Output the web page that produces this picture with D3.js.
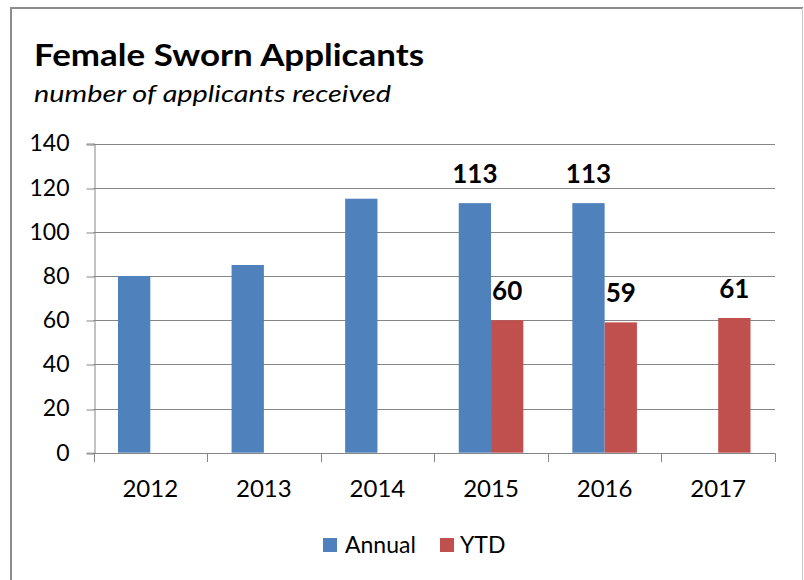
<!DOCTYPE html>
<html>
<head>
<meta charset="utf-8">
<script src="https://cdn.jsdelivr.net/npm/d3@7"></script>
<style>
  html, body { margin: 0; padding: 0; background: #fff; }
  svg { display: block; }
  text { font-family: Lato, "Open Sans", sans-serif; fill: #000; }
</style>
</head>
<body>
<svg id="chart" width="804" height="580"></svg>
<script>
const categories = ["2012", "2013", "2014", "2015", "2016", "2017"];
const seriesNames = ["Annual", "YTD"];
const annualValues = [80, 85, 115, 113, 113, null];
const ytdValues = [null, null, null, 60, 59, 61];
const annualLabels = [null, null, null, "113", "113", null];
const ytdLabels = [null, null, null, "60", "59", "61"];
const yTicks = [0, 20, 40, 60, 80, 100, 120, 140];
const colors = ["#4F81BD", "#C0504D"];
const titleText = "Female Sworn Applicants";
const subtitleText = "number of applicants received";

const svg = d3.select("#chart");

// chart frame
svg.append("line").attr("x1", 11).attr("x2", 11).attr("y1", 7).attr("y2", 580)
  .attr("stroke", "#8c8c8c").attr("stroke-width", 2);
svg.append("line").attr("x1", 10).attr("x2", 803).attr("y1", 8).attr("y2", 8)
  .attr("stroke", "#8c8c8c").attr("stroke-width", 2);
svg.append("line").attr("x1", 802.5).attr("x2", 802.5).attr("y1", 8).attr("y2", 580)
  .attr("stroke", "#c8c8c8").attr("stroke-width", 1);

// titles
svg.append("text").attr("x", 34).attr("y", 66)
  .attr("font-size", 30).attr("font-weight", "bold")
  .attr("textLength", 390).attr("lengthAdjust", "spacingAndGlyphs")
  .text(titleText);
svg.append("text").attr("x", 34).attr("y", 102)
  .attr("font-size", 23).attr("font-style", "italic")
  .attr("textLength", 357).attr("lengthAdjust", "spacingAndGlyphs")
  .text(subtitleText);

const plot = { left: 93.5, right: 775, top: 143.5, bottom: 452.7 };

const x = d3.scaleBand().domain(categories).range([plot.left, plot.right])
  .paddingInner(0).paddingOuter(0);
const xs = d3.scaleBand().domain(seriesNames).range([0, x.bandwidth()])
  .paddingInner(0).paddingOuter(0.758);
const y = d3.scaleLinear().domain([0, 140]).range([plot.bottom, plot.top]);

// gridlines
svg.append("g").selectAll("line").data(yTicks).join("line")
  .attr("x1", plot.left).attr("x2", plot.right)
  .attr("y1", d => Math.round(y(d)) + 0.5).attr("y2", d => Math.round(y(d)) + 0.5)
  .attr("stroke", "#868686").attr("stroke-width", 1);

// y axis
const yAxis = svg.append("g").attr("transform", `translate(${Math.round(plot.left) + 0.5},0)`)
  .call(d3.axisLeft(y).tickValues(yTicks).tickSize(8).tickPadding(17).tickFormat(d3.format("d")));
yAxis.select(".domain").attr("stroke", "#868686");
yAxis.selectAll(".tick line").attr("stroke", "#868686")
  .attr("transform", d => `translate(0,${Math.round(y(d)) + 0.5 - y(d)})`);
yAxis.selectAll(".tick text").attr("font-size", 23).attr("font-family", "Lato, sans-serif").attr("fill", "#000");

// bars
const seriesData = [annualValues, ytdValues];
const labelData = [annualLabels, ytdLabels];
seriesNames.forEach((s, si) => {
  const g = svg.append("g");
  g.selectAll("rect").data(categories.map((c, i) => ({ c, v: seriesData[si][i] })).filter(d => d.v != null))
    .join("rect")
    .attr("x", d => x(d.c) + xs(s))
    .attr("width", xs.bandwidth())
    .attr("y", d => y(d.v))
    .attr("height", d => y(0) - y(d.v))
    .attr("fill", colors[si]);
  g.selectAll("text").data(categories.map((c, i) => ({ c, v: seriesData[si][i], l: labelData[si][i] })).filter(d => d.l != null))
    .join("text")
    .attr("x", d => x(d.c) + xs(s) + xs.bandwidth() / 2)
    .attr("y", d => y(d.v) - 20)
    .attr("text-anchor", "middle")
    .attr("font-size", 26).attr("font-weight", "bold")
    .text(d => d.l);
});

// x axis
const xAxisG = svg.append("g");
xAxisG.append("line").attr("x1", plot.left).attr("x2", plot.right + 0.5)
  .attr("y1", Math.round(y(0)) + 0.5).attr("y2", Math.round(y(0)) + 0.5)
  .attr("stroke", "#868686");
const bounds = categories.map(c => x(c)).concat([plot.right]);
xAxisG.selectAll("line.tk").data(bounds).join("line").attr("class", "tk")
  .attr("x1", d => Math.round(d) + 0.5).attr("x2", d => Math.round(d) + 0.5)
  .attr("y1", Math.round(y(0)) + 0.5).attr("y2", Math.round(y(0)) + 9)
  .attr("stroke", "#868686");
xAxisG.selectAll("text").data(categories).join("text")
  .attr("x", d => x(d) + x.bandwidth() / 2)
  .attr("y", 497)
  .attr("text-anchor", "middle")
  .attr("font-size", 24)
  .text(d => d);

// legend
const legendItems = [
  { name: seriesNames[0], color: colors[0], sx: 323, tx: 345 },
  { name: seriesNames[1], color: colors[1], sx: 440, tx: 460 }
];
const lg = svg.append("g");
legendItems.forEach(it => {
  lg.append("rect").attr("x", it.sx).attr("y", 538).attr("width", 14).attr("height", 14).attr("fill", it.color);
  lg.append("text").attr("x", it.tx).attr("y", 553).attr("font-size", 23).text(it.name);
});
</script>
</body>
</html>
